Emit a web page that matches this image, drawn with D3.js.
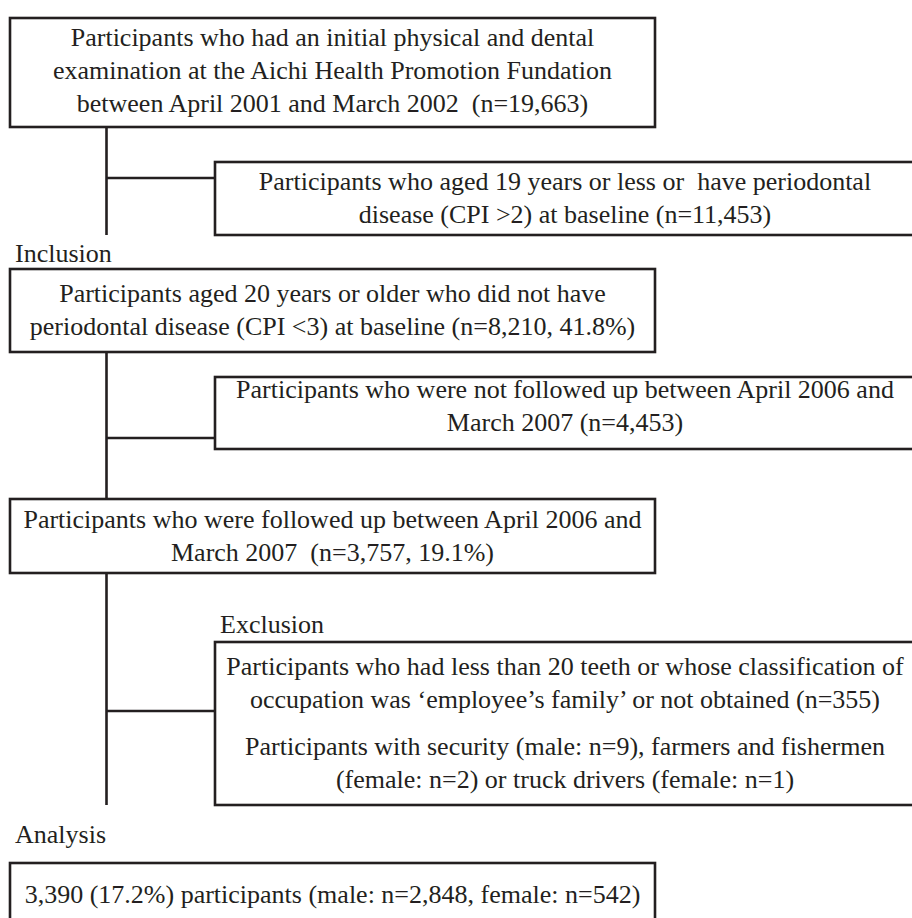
<!DOCTYPE html>
<html>
<head>
<meta charset="utf-8">
<script src="https://cdn.jsdelivr.net/npm/d3@7"></script>
<style>
  body { margin: 0; background: #fff; }
  svg { display: block; }
</style>
</head>
<body>
<div id="chart"></div>
<script>
// flow chart text, top to bottom
var mainSteps = [
    ["Participants who had an initial physical and dental",
     "examination at the Aichi Health Promotion Fundation",
     "between April 2001 and March 2002  (n=19,663)"],
    ["Participants aged 20 years or older who did not have",
     "periodontal disease (CPI <3) at baseline (n=8,210, 41.8%)"],
    ["Participants who were followed up between April 2006 and",
     "March 2007  (n=3,757, 19.1%)"],
    ["3,390 (17.2%) participants (male: n=2,848, female: n=542)"]
];

var sideSteps = [
    [["Participants who aged 19 years or less or  have periodontal",
      "disease (CPI >2) at baseline (n=11,453)"]],
    [["Participants who were not followed up between April 2006 and",
      "March 2007 (n=4,453)"]],
    [["Participants who had less than 20 teeth or whose classification of",
      "occupation was \u2018employee\u2019s family\u2019 or not obtained (n=355)"],
     ["Participants with security (male: n=9), farmers and fishermen",
      "(female: n=2) or truck drivers (female: n=1)"]]
];

var stageLabels = ["Inclusion", "Exclusion", "Analysis"];

(function () {
    var width = 912,
        height = 918,
        ink = "#231f20",
        lineH = 33;

    var svg = d3.select("#chart")
        .append("svg")
        .attr("width", width)
        .attr("height", height);

    // main column and side column
    var mainX = [10, 655],
        sideX = [215, 915],
        spineX = 106.5;

    // top / bottom of each box
    var mainY = [[18, 127], [269, 352], [499, 573], [863, 940]];
    var sideY = [[162, 235], [377, 449], [642, 805]];
    var connY = [178, 438, 711];
    var firstBase = [46, 302, 528, 903];
    var sideBase = [[190], [398], [675, 755]];

    var g = svg.append("g")
        .style("font-family", "'Liberation Serif', 'Times New Roman', serif")
        .style("font-size", "26px")
        .style("fill", ink);

    // spine lines from each main box down to the next stage
    var spineEnds = [235, 499, 805];
    g.selectAll(".spine")
        .data(spineEnds)
        .enter().append("line")
        .attr("class", "spine")
        .attr("x1", spineX).attr("x2", spineX)
        .attr("y1", function (d, i) { return mainY[i][1]; })
        .attr("y2", function (d) { return d; })
        .style("stroke", ink)
        .style("stroke-width", 2.6);

    g.selectAll(".conn")
        .data(connY)
        .enter().append("line")
        .attr("class", "conn")
        .attr("x1", spineX).attr("x2", sideX[0])
        .attr("y1", function (d) { return d; })
        .attr("y2", function (d) { return d; })
        .style("stroke", ink)
        .style("stroke-width", 2.6);

    // main boxes
    var mains = g.selectAll(".main")
        .data(mainSteps)
        .enter().append("g")
        .attr("class", "main");

    mains.append("rect")
        .attr("x", mainX[0])
        .attr("y", function (d, i) { return mainY[i][0]; })
        .attr("width", mainX[1] - mainX[0])
        .attr("height", function (d, i) { return mainY[i][1] - mainY[i][0]; })
        .style("fill", "none")
        .style("stroke", ink)
        .style("stroke-width", 2.6);

    mains.each(function (lines, i) {
        d3.select(this).selectAll("text")
            .data(lines)
            .enter().append("text")
            .attr("x", (mainX[0] + mainX[1]) / 2)
            .attr("y", function (d, j) { return firstBase[i] + j * lineH; })
            .attr("text-anchor", "middle")
            .style("white-space", "pre")
            .text(function (d) { return d; });
    });

    // side boxes
    var sides = g.selectAll(".side")
        .data(sideSteps)
        .enter().append("g")
        .attr("class", "side");

    sides.append("rect")
        .attr("x", sideX[0])
        .attr("y", function (d, i) { return sideY[i][0]; })
        .attr("width", sideX[1] - sideX[0])
        .attr("height", function (d, i) { return sideY[i][1] - sideY[i][0]; })
        .style("fill", "none")
        .style("stroke", ink)
        .style("stroke-width", 2.6);

    sides.each(function (paras, i) {
        var sel = d3.select(this);
        paras.forEach(function (lines, p) {
            sel.selectAll(".p" + p)
                .data(lines)
                .enter().append("text")
                .attr("class", "p" + p)
                .attr("x", 565)
                .attr("y", function (d, j) { return sideBase[i][p] + j * lineH; })
                .attr("text-anchor", "middle")
                .style("white-space", "pre")
                .text(function (d) { return d; });
        });
    });

    // stage labels
    var labelPos = [[15, 262], [220, 633], [15, 843]];
    g.selectAll(".stage")
        .data(stageLabels)
        .enter().append("text")
        .attr("class", "stage")
        .attr("x", function (d, i) { return labelPos[i][0]; })
        .attr("y", function (d, i) { return labelPos[i][1]; })
        .text(function (d) { return d; });
})();
</script>
</body>
</html>
